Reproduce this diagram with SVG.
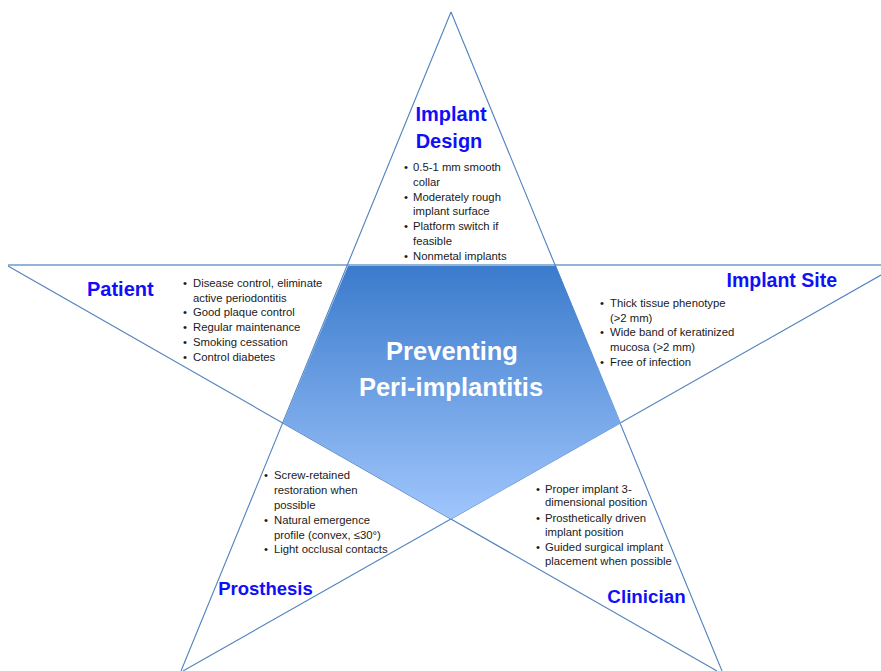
<svg xmlns="http://www.w3.org/2000/svg" width="881" height="671" viewBox="0 0 881 671">
<defs>
<linearGradient id="pg" x1="0" y1="266" x2="0" y2="519" gradientUnits="userSpaceOnUse">
<stop offset="0" stop-color="#3b7bcc"/>
<stop offset="1" stop-color="#a0c6fc"/>
</linearGradient>
<style>
.ln{stroke:#4f81bd;stroke-width:1.1;fill:none}
.hl{stroke:#95b3d7;stroke-width:2;fill:none}
.t{font-family:"Liberation Sans",Arial,sans-serif;font-weight:bold;font-size:20px;fill:#1010f8}
.b{font-family:"Liberation Sans",Arial,sans-serif;font-size:11.3px;fill:#1a1a1a}
.c{font-family:"Liberation Sans",Arial,sans-serif;font-weight:bold;font-size:25.5px;fill:#ffffff}
</style>
</defs>
<rect width="881" height="671" fill="#ffffff"/>
<g id="connectors">
<line class="hl" x1="8" y1="265" x2="881" y2="265"/>
<line class="ln" x1="451" y1="12" x2="181" y2="671"/>
<line class="ln" x1="451" y1="12" x2="722" y2="671"/>
<line class="ln" x1="8" y1="266" x2="717" y2="671"/>
<line class="ln" x1="881" y1="275" x2="183" y2="671"/>
</g>
<g id="center">
<polygon points="348,266 556,266 621,423 451,519 283,423" fill="url(#pg)"/>
<text class="c" x="452" y="360" text-anchor="middle">Preventing</text>
<text class="c" x="451" y="396" text-anchor="middle">Peri-implantitis</text>
</g>
<g id="implant-design">
<text class="t" x="451" y="121" text-anchor="middle">Implant</text>
<text class="t" x="449" y="148" text-anchor="middle">Design</text>
<g class="b">
<text x="404" y="171">•</text><text x="413" y="171">0.5-1 mm smooth</text>
<text x="413" y="186">collar</text>
<text x="404" y="200.5">•</text><text x="413" y="200.5">Moderately rough</text>
<text x="413" y="215">implant surface</text>
<text x="404" y="230">•</text><text x="413" y="230">Platform switch if</text>
<text x="413" y="245">feasible</text>
<text x="404" y="259.5">•</text><text x="413" y="259.5">Nonmetal implants</text>
</g>
</g>
<g id="patient">
<text class="t" x="87" y="296">Patient</text>
<g class="b">
<text x="183" y="287">•</text><text x="193" y="287">Disease control, eliminate</text>
<text x="193" y="302">active periodontitis</text>
<text x="183" y="316">•</text><text x="193" y="316">Good plaque control</text>
<text x="183" y="331">•</text><text x="193" y="331">Regular maintenance</text>
<text x="183" y="346">•</text><text x="193" y="346">Smoking cessation</text>
<text x="183" y="360.5">•</text><text x="193" y="360.5">Control diabetes</text>
</g>
</g>
<g id="implant-site">
<text class="t" x="837" y="287" text-anchor="end" style="font-size:19.5px">Implant Site</text>
<g class="b">
<text x="600" y="307">•</text><text x="610" y="307">Thick tissue phenotype</text>
<text x="610" y="322">(&gt;2 mm)</text>
<text x="600" y="336">•</text><text x="610" y="336">Wide band of keratinized</text>
<text x="610" y="351">mucosa (&gt;2 mm)</text>
<text x="600" y="366">•</text><text x="610" y="366">Free of infection</text>
</g>
</g>
<g id="prosthesis">
<text class="t" x="265.5" y="595" text-anchor="middle" style="font-size:18.5px">Prosthesis</text>
<g class="b">
<text x="264" y="479">•</text><text x="274" y="479">Screw-retained</text>
<text x="274" y="494">restoration when</text>
<text x="274" y="509">possible</text>
<text x="264" y="524">•</text><text x="274" y="524">Natural emergence</text>
<text x="274" y="538.5">profile (convex, ≤30°)</text>
<text x="264" y="553">•</text><text x="274" y="553">Light occlusal contacts</text>
</g>
</g>
<g id="clinician">
<text class="t" x="646.5" y="603" text-anchor="middle" style="font-size:18.8px">Clinician</text>
<g class="b">
<text x="536" y="492.5">•</text><text x="545" y="492.5">Proper implant 3-</text>
<text x="545" y="506">dimensional position</text>
<text x="536" y="521.5">•</text><text x="545" y="521.5">Prosthetically driven</text>
<text x="545" y="536">implant position</text>
<text x="536" y="551">•</text><text x="545" y="551">Guided surgical implant</text>
<text x="545" y="565">placement when possible</text>
</g>
</g>
</svg>
